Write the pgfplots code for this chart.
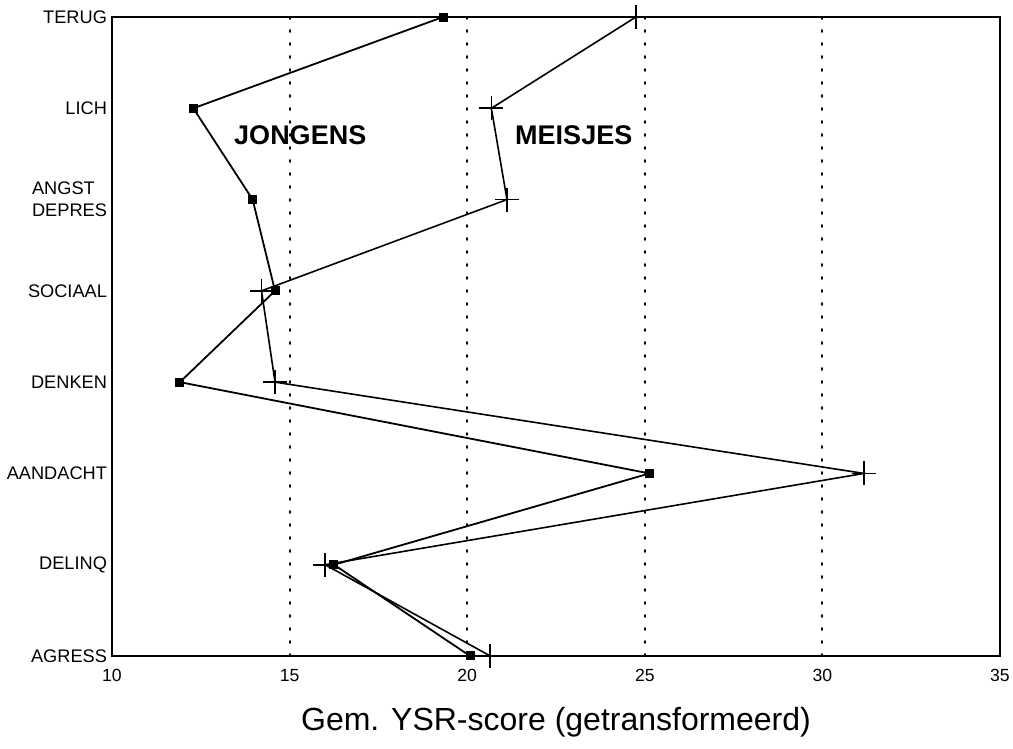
\documentclass[border=0pt]{standalone}
\usepackage{pgfplots}
\pgfplotsset{compat=1.18}
\usepackage{fontspec}
\setmainfont{Liberation Sans}
\begin{document}
\begin{tikzpicture}
\begin{axis}[
  scale only axis,
  width=444pt, height=319.5pt,
  xmin=10, xmax=35, ymin=0, ymax=7,
  axis line style={line width=0.9pt},
  xtick={10,15,20,25,30,35},
  xticklabels={10,15,20,25,30,35},
  ytick={0,1,2,3,4,5,6,7},
  yticklabels={AGRESS,DELINQ,AANDACHT,DENKEN,SOCIAAL,{ANGST\\DEPRES},LICH,TERUG},
  yticklabel style={font=\fontsize{9.1}{11}\selectfont, align=left, xshift=1pt},
  xticklabel style={font=\fontsize{8.8}{10}\selectfont, yshift=-3pt},
  tick style={draw=none},
  xlabel={Gem. YSR-score (getransformeerd)},
  xlabel style={font=\fontsize{16}{19}\selectfont, yshift=-6pt},
  clip=false,
]
\foreach \g in {15,20,25,30} {
  \edef\temp{\noexpand\draw[line width=0.95pt, dash pattern=on 1pt off 5.5pt, line cap=round] (axis cs:\g,0) -- (axis cs:\g,7);}
  \temp
}
% Jongens
\addplot[black, line width=0.9pt, mark=square*, mark size=1.8pt] coordinates {
  (19.32,7) (12.29,6) (13.96,5) (14.59,4) (11.91,3) (25.13,2) (16.25,1) (20.08,0)
};
% Meisjes
\addplot[black, line width=0.8pt, mark=+, mark size=6pt, mark options={line width=0.8pt}] coordinates {
  (24.75,7) (20.68,6) (21.12,5) (14.21,4) (14.59,3) (31.17,2) (16.0,1) (20.65,0)
};
\node[font=\fontsize{13.5}{15}\selectfont\bfseries] at (axis cs:15.3,5.7) {JONGENS};
\node[font=\fontsize{13.5}{15}\selectfont\bfseries] at (axis cs:23.0,5.7) {MEISJES};
\coordinate (bl) at (rel axis cs:0,0);
\end{axis}
\pgfresetboundingbox
\path (bl) ++(-56pt,-46.5pt) rectangle ++(506.5pt,374.5pt);
\end{tikzpicture}
\end{document}
